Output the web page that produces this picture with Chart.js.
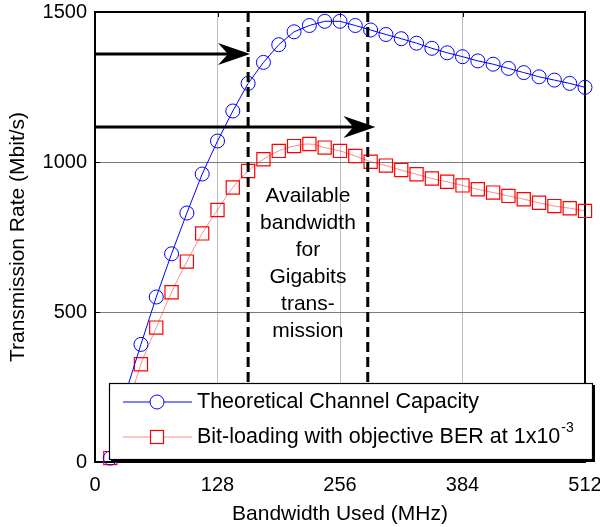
<!DOCTYPE html>
<html><head><meta charset="utf-8">
<script src="https://cdn.jsdelivr.net/npm/chart.js@4.4.1/dist/chart.umd.min.js"></script>
<style>html,body{margin:0;padding:0;background:#fff;}#wrap{width:600px;height:527px;position:relative;}</style>
</head><body><div id="wrap"><canvas id="c" width="600" height="527"></canvas></div>
<script>
// ---- data ----
const bandwidthMHz = [16,32,48,64,80,96,112,128,144,160,176,192,208,224,240,256,272,288,304,320,336,352,368,384,400,416,432,448,464,480,496,512];
const channelCapacity = [13,230,392,550,694,830,960,1070,1170,1262,1332,1391,1434,1455,1469,1469,1455,1440,1425,1411,1396,1379,1364,1351,1337,1326,1312,1298,1284,1273,1262,1249];
const bitLoading = [13,160,326,448,566,668,762,840,915,970,1009,1037,1053,1060,1048,1037,1020,1001,988,973,959,945,934,922,909,898,887,876,864,853,846,837];
const xTickValues = [0,128,256,384,512];
const yTickValues = [0,500,1000,1500];
const seriesNames = ['Theoretical Channel Capacity','Bit-loading with objective BER at 1x10'];
const berExponent = '-3';
const annotationLines = ['Available','bandwidth','for','Gigabits','trans-','mission'];
const bandLimitsMHz = [160,285];
const arrowLevels = [1360,1117];
const arrowTipsMHz = [162,293];
const annotationTopValue = 887;

const FONT = "'Liberation Sans', Arial, Helvetica, sans-serif";
const BLUE = '#0000ff', RED = '#ff0000', PINK = 'rgba(255,0,0,0.45)';

function pts(xs, ys){ return xs.map((x,i)=>({x:x,y:ys[i]})); }

const overlay = {
  id:'overlay',
  beforeDatasetsDraw(chart){
    const {ctx, chartArea:a, scales:{x,y}} = chart;
    ctx.save();
    ctx.strokeStyle='#000';
    ctx.lineWidth=1;
    xTickValues.forEach(v=>{ const px=Math.round(x.getPixelForValue(v))+0.5;
      ctx.beginPath(); ctx.moveTo(px,a.bottom); ctx.lineTo(px,a.bottom-5); ctx.moveTo(px,a.top); ctx.lineTo(px,a.top+5); ctx.stroke(); });
    yTickValues.forEach(v=>{ const py=Math.round(y.getPixelForValue(v))+0.5;
      ctx.beginPath(); ctx.moveTo(a.left,py); ctx.lineTo(a.left+5,py); ctx.moveTo(a.right,py); ctx.lineTo(a.right-5,py); ctx.stroke(); });
    ctx.lineWidth=2;
    ctx.strokeRect(a.left, a.top, a.right-a.left, a.bottom-a.top);
    ctx.restore();
  },
  afterDatasetsDraw(chart){
    const {ctx, chartArea:a, scales:{x,y}} = chart;
    ctx.save();
    ctx.strokeStyle='#000'; ctx.fillStyle='#000';
    ctx.lineWidth=3; ctx.setLineDash([10,5]);
    bandLimitsMHz.forEach(v=>{ const px=x.getPixelForValue(v);
      ctx.beginPath(); ctx.moveTo(px,a.top); ctx.lineTo(px,a.bottom); ctx.stroke(); });
    ctx.setLineDash([]);
    arrowLevels.forEach((lv,i)=>{
      const py=y.getPixelForValue(lv), tx=x.getPixelForValue(arrowTipsMHz[i]);
      const L=32, W=11;
      ctx.lineWidth=3;
      ctx.beginPath(); ctx.moveTo(a.left,py); ctx.lineTo(tx-L*0.6,py); ctx.stroke();
      ctx.beginPath(); ctx.moveTo(tx,py); ctx.lineTo(tx-L,py-W); ctx.lineTo(tx-L*0.69,py); ctx.lineTo(tx-L,py+W); ctx.closePath(); ctx.fill();
    });
    const cx = x.getPixelForValue((bandLimitsMHz[0]+bandLimitsMHz[1])/2);
    const y0 = y.getPixelForValue(annotationTopValue);
    ctx.font = '21px '+FONT; ctx.textAlign='center'; ctx.textBaseline='middle';
    annotationLines.forEach((t,i)=>ctx.fillText(t, cx, y0+i*27));
    ctx.restore();
  },
  afterDraw(chart){
    const {ctx} = chart;
    const L=109, T=383, R=593, B=460;
    ctx.save();
    ctx.fillStyle='#000'; ctx.fillRect(L+2,T+2,R-L,B-T);
    ctx.fillStyle='#fff'; ctx.fillRect(L,T,R-L,B-T);
    ctx.strokeStyle='#000'; ctx.lineWidth=1.2; ctx.strokeRect(L+0.5,T+0.5,R-L-1,B-T-1);
    const rows=[402,437];
    ctx.lineWidth=1; ctx.strokeStyle=BLUE;
    ctx.beginPath(); ctx.moveTo(123,rows[0]); ctx.lineTo(192,rows[0]); ctx.stroke();
    ctx.beginPath(); ctx.arc(157,rows[0],7,0,Math.PI*2); ctx.fillStyle='#fff'; ctx.fill(); ctx.stroke();
    ctx.strokeStyle=PINK;
    ctx.beginPath(); ctx.moveTo(123,rows[1]); ctx.lineTo(192,rows[1]); ctx.stroke();
    ctx.strokeStyle=RED; ctx.lineWidth=1.2; ctx.fillStyle='#fff';
    ctx.fillRect(150.5,rows[1]-6.5,13,13); ctx.strokeRect(150.5,rows[1]-6.5,13,13);
    ctx.fillStyle='#000'; ctx.font='21.5px '+FONT; ctx.textAlign='left'; ctx.textBaseline='middle';
    ctx.fillText(seriesNames[0],197,rows[0]);
    ctx.fillText(seriesNames[1],197,rows[1]);
    const w = ctx.measureText(seriesNames[1]).width;
    ctx.font='14px '+FONT;
    ctx.fillText(berExponent,197+w+1,rows[1]-9);
    ctx.restore();
  }
};

new Chart(document.getElementById('c'), {
  type:'line',
  data:{ datasets:[
    { label:seriesNames[0], data:pts(bandwidthMHz,channelCapacity), borderColor:BLUE, borderWidth:1,
      pointStyle:'circle', pointRadius:7, pointBorderColor:BLUE, pointBackgroundColor:'rgba(0,0,0,0)', pointBorderWidth:1, tension:0, clip:false },
    { label:seriesNames[1], data:pts(bandwidthMHz,bitLoading), borderColor:PINK, borderWidth:1, cubicInterpolationMode:'monotone',
      pointStyle:'rect', pointRadius:9.3, pointBorderColor:RED, pointBackgroundColor:'rgba(0,0,0,0)', pointBorderWidth:1.2, clip:false }
  ]},
  options:{
    responsive:false, animation:false, devicePixelRatio:1,
    layout:{ padding:{ top:12, right:15, left:0, bottom:0 } },
    plugins:{ legend:{display:false}, tooltip:{enabled:false} },
    scales:{
      x:{ type:'linear', min:0, max:512,
        afterBuildTicks:s=>{ s.ticks = xTickValues.map(v=>({value:v})); },
        afterFit:s=>{ s.height=65; s.paddingLeft=0; s.paddingRight=0; },
        ticks:{ color:'#000', font:{family:FONT,size:20}, padding:11, maxRotation:0, autoSkip:false, callback:v=>String(v) },
        grid:{ drawTicks:false, lineWidth:1, color:c=> (c.tick && (c.tick.value===0||c.tick.value===512)) ? 'rgba(0,0,0,0)' : '#bdbdbd' },
        border:{ display:false },
        title:{ display:true, text:'Bandwidth Used (MHz)', color:'#000', font:{family:FONT,size:21}, padding:{top:7,bottom:0} }
      },
      y:{ type:'linear', min:0, max:1500,
        afterBuildTicks:s=>{ s.ticks = yTickValues.map(v=>({value:v})); },
        afterFit:s=>{ s.width=95; s.paddingTop=0; s.paddingBottom=0; },
        ticks:{ color:'#000', font:{family:FONT,size:20}, padding:8, autoSkip:false, callback:v=>String(v) },
        grid:{ drawTicks:false, lineWidth:1, color:c=> (c.tick && (c.tick.value===0||c.tick.value===1500)) ? 'rgba(0,0,0,0)' : '#7a7a7a' },
        border:{ display:false },
        title:{ display:true, text:'Transmission Rate (Mbit/s)', color:'#000', font:{family:FONT,size:21}, padding:{top:6,bottom:0} }
      }
    }
  },
  plugins:[overlay]
});
</script></body></html>
